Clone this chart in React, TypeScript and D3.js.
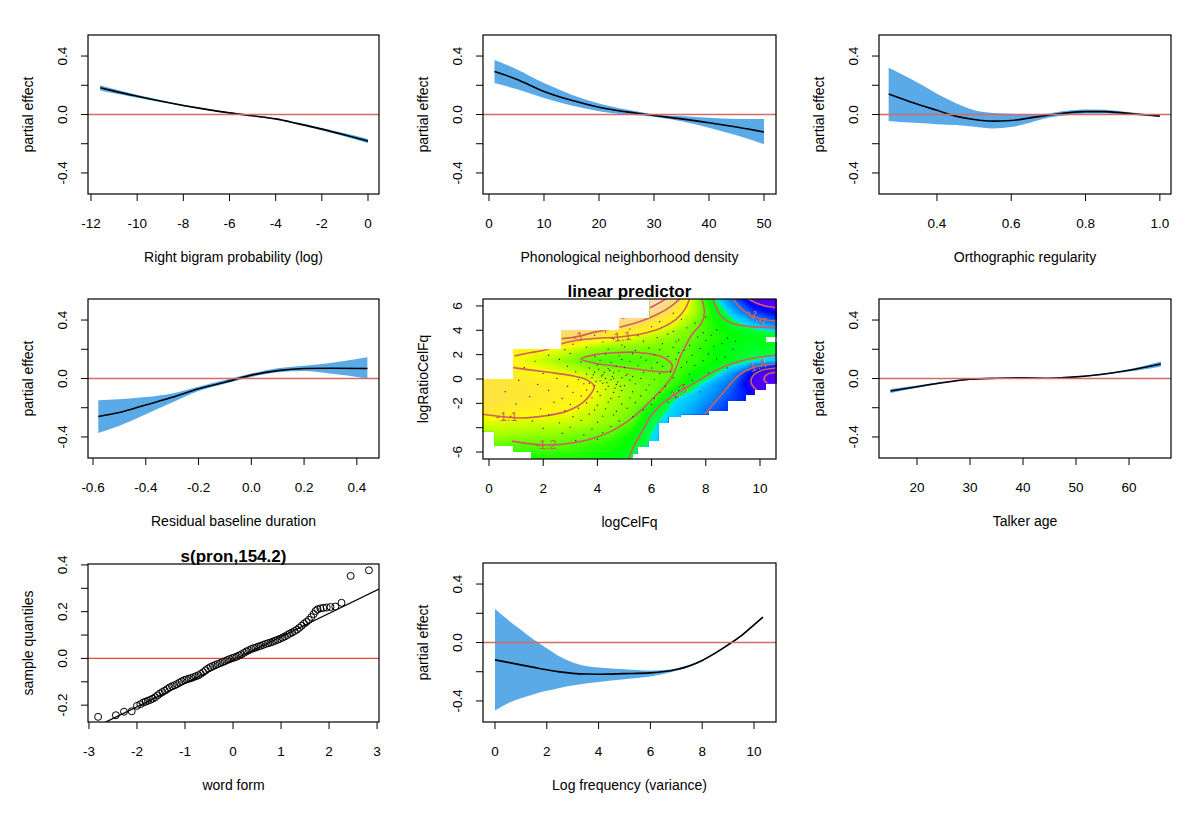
import { useRef, useEffect } from "react";
import * as d3 from "d3";

// ---------- smooth terms (x, fit, lower, upper) ----------
const bigramX = [-11.6, -11, -10, -9, -8, -7, -6, -5, -4, -3, -2, -1, 0];
const bigramFit = [0.183, 0.16, 0.125, 0.092, 0.062, 0.035, 0.011, -0.009, -0.03, -0.064, -0.1, -0.14, -0.182];
const bigramLo = [0.165, 0.146, 0.115, 0.085, 0.057, 0.031, 0.007, -0.013, -0.035, -0.07, -0.108, -0.151, -0.197];
const bigramHi = [0.201, 0.174, 0.135, 0.099, 0.067, 0.039, 0.015, -0.005, -0.025, -0.058, -0.092, -0.129, -0.167];

const phonX = [1, 5, 10, 15, 20, 25, 30, 35, 40, 45, 50];
const phonFit = [0.294, 0.242, 0.158, 0.097, 0.05, 0.018, -0.007, -0.03, -0.056, -0.086, -0.12];
const phonLo = [0.215, 0.174, 0.113, 0.061, 0.023, 0.0, -0.016, -0.047, -0.09, -0.142, -0.203];
const phonHi = [0.373, 0.31, 0.215, 0.136, 0.075, 0.034, 0.002, -0.011, -0.023, -0.03, -0.03];

const orthX = [0.27, 0.3, 0.35, 0.4, 0.45, 0.5, 0.55, 0.6, 0.65, 0.7, 0.75, 0.8, 0.85, 0.9, 0.95, 1.0];
const orthFit = [0.14, 0.113, 0.068, 0.029, -0.011, -0.034, -0.045, -0.041, -0.023, -0.005, 0.011, 0.02, 0.02, 0.011, 0, -0.011];
const orthLo = [-0.045, -0.052, -0.059, -0.066, -0.072, -0.084, -0.095, -0.086, -0.056, -0.023, -0.005, 0.007, 0.007, 0, -0.007, -0.016];
const orthHi = [0.32, 0.282, 0.215, 0.142, 0.079, 0.029, 0.011, 0.005, 0, 0.007, 0.025, 0.034, 0.032, 0.02, 0.007, -0.007];

const residX = [-0.58, -0.5, -0.4, -0.3, -0.2, -0.1, 0, 0.1, 0.2, 0.3, 0.44];
const residFit = [-0.26, -0.233, -0.181, -0.129, -0.07, -0.025, 0.023, 0.054, 0.068, 0.07, 0.068];
const residLo = [-0.373, -0.323, -0.244, -0.165, -0.086, -0.036, 0.011, 0.043, 0.052, 0.034, 0.0];
const residHi = [-0.149, -0.142, -0.127, -0.102, -0.056, -0.011, 0.034, 0.07, 0.088, 0.106, 0.145];

const ageX = [15, 20, 25, 30, 35, 40, 45, 50, 55, 60, 66];
const ageFit = [-0.086, -0.056, -0.027, -0.005, 0.002, 0.005, 0.002, 0.011, 0.029, 0.056, 0.099];
const ageLo = [-0.1, -0.064, -0.032, -0.008, 0, 0.003, 0, 0.008, 0.024, 0.048, 0.081];
const ageHi = [-0.072, -0.048, -0.022, -0.002, 0.004, 0.007, 0.004, 0.014, 0.034, 0.064, 0.117];

const freqX = [0, 0.5, 1, 1.5, 2, 2.5, 3, 3.5, 4, 5, 6, 7, 7.5, 8, 8.5, 9, 9.5, 10, 10.35];
const freqFit = [-0.119, -0.136, -0.153, -0.17, -0.187, -0.201, -0.211, -0.216, -0.217, -0.213, -0.208, -0.185, -0.16, -0.123, -0.073, -0.016, 0.046, 0.121, 0.174];
const freqLo = [-0.466, -0.416, -0.382, -0.354, -0.331, -0.311, -0.295, -0.281, -0.27, -0.251, -0.233, -0.194, -0.167, -0.128, -0.078, -0.021, 0.041, 0.117, 0.169];
const freqHi = [0.229, 0.155, 0.087, 0.018, -0.039, -0.096, -0.137, -0.16, -0.171, -0.183, -0.192, -0.178, -0.153, -0.119, -0.069, -0.011, 0.05, 0.126, 0.178];

// ---------- random effect QQ plot ----------
const qqPoints = [
  [-2.81, -0.25], [-2.44, -0.243], [-2.27, -0.228], [-2.11, -0.226], [-2.0, -0.203], [-1.93, -0.196], [-1.87, -0.189],
  [-1.82, -0.185], [-1.77, -0.181], [-1.72, -0.177], [-1.67, -0.172], [-1.62, -0.166], [-1.57, -0.158], [-1.52, -0.15],
  [-1.47, -0.144], [-1.42, -0.138], [-1.37, -0.131], [-1.32, -0.124], [-1.27, -0.119], [-1.22, -0.115], [-1.17, -0.11],
  [-1.12, -0.104], [-1.07, -0.098], [-1.02, -0.093], [-0.97, -0.09], [-0.92, -0.087], [-0.87, -0.084], [-0.82, -0.08],
  [-0.77, -0.076], [-0.72, -0.072], [-0.67, -0.066], [-0.62, -0.059], [-0.57, -0.051], [-0.52, -0.043], [-0.47, -0.037],
  [-0.42, -0.032], [-0.37, -0.028], [-0.32, -0.024], [-0.27, -0.02], [-0.22, -0.016], [-0.17, -0.012], [-0.12, -0.007],
  [-0.07, -0.003], [-0.02, 0.001], [0.03, 0.004], [0.08, 0.008], [0.13, 0.013], [0.18, 0.018], [0.23, 0.024],
  [0.28, 0.03], [0.33, 0.035], [0.38, 0.04], [0.43, 0.044], [0.48, 0.047], [0.53, 0.051], [0.58, 0.054],
  [0.63, 0.058], [0.68, 0.062], [0.73, 0.065], [0.78, 0.068], [0.83, 0.072], [0.88, 0.076], [0.93, 0.08],
  [0.98, 0.084], [1.03, 0.089], [1.08, 0.094], [1.13, 0.1], [1.18, 0.106], [1.23, 0.111], [1.28, 0.117],
  [1.33, 0.123], [1.38, 0.131], [1.43, 0.14], [1.48, 0.149], [1.53, 0.156], [1.58, 0.165], [1.63, 0.177],
  [1.68, 0.19], [1.72, 0.203], [1.76, 0.21], [1.82, 0.214], [1.88, 0.216], [1.95, 0.218], [2.03, 0.22],
  [2.13, 0.222], [2.26, 0.238], [2.45, 0.353], [2.83, 0.377],
];
const qqIntercept = -0.007;
const qqSlope = 0.1;

// ---------- tensor surface (linear predictor) ----------
const gridX = [0, 0.75, 1.5, 2.25, 3, 3.75, 4.5, 5.25, 6, 6.75, 7.5, 8.25, 9, 9.75, 10.5];
const gridY = [6.5, 5.5, 4.5, 3.5, 2.5, 1.5, 0.5, -0.5, -1.5, -2.5, -3.5, -4.5, -5.5, -6.5];
const gridZ = [
  [-0.8, -0.8, -0.8, -0.8, -0.8, -0.8, -0.8, -0.82, -0.85, -0.96, -1.13, -1.3, -1.4, -1.52, -1.58],
  [-0.85, -0.85, -0.85, -0.84, -0.82, -0.82, -0.83, -0.88, -0.95, -1.04, -1.14, -1.26, -1.35, -1.43, -1.48],
  [-0.95, -0.95, -0.95, -0.95, -0.95, -0.95, -0.98, -1.0, -1.06, -1.11, -1.18, -1.25, -1.3, -1.34, -1.38],
  [-1.02, -1.02, -1.02, -1.02, -1.0, -1.04, -1.08, -1.11, -1.14, -1.17, -1.2, -1.24, -1.27, -1.28, -1.29],
  [-1.09, -1.09, -1.1, -1.1, -1.12, -1.16, -1.18, -1.185, -1.19, -1.195, -1.22, -1.26, -1.285, -1.295, -1.29],
  [-1.07, -1.09, -1.12, -1.15, -1.18, -1.21, -1.22, -1.22, -1.215, -1.195, -1.23, -1.26, -1.29, -1.32, -1.34],
  [-1.06, -1.07, -1.09, -1.1, -1.12, -1.15, -1.17, -1.185, -1.195, -1.21, -1.255, -1.3, -1.37, -1.49, -1.58],
  [-1.04, -1.05, -1.06, -1.07, -1.08, -1.1, -1.14, -1.17, -1.19, -1.23, -1.3, -1.36, -1.41, -1.52, -1.56],
  [-1.04, -1.05, -1.06, -1.07, -1.085, -1.105, -1.14, -1.17, -1.2, -1.31, -1.34, -1.38, -1.43, -1.47, -1.5],
  [-1.05, -1.07, -1.08, -1.09, -1.1, -1.13, -1.16, -1.185, -1.27, -1.33, -1.36, -1.41, -1.45, -1.48, -1.5],
  [-1.12, -1.12, -1.125, -1.125, -1.13, -1.15, -1.17, -1.21, -1.31, -1.34, -1.37, -1.4, -1.45, -1.48, -1.5],
  [-1.15, -1.16, -1.165, -1.17, -1.18, -1.19, -1.21, -1.26, -1.32, -1.35, -1.38, -1.42, -1.46, -1.5, -1.5],
  [-1.2, -1.21, -1.215, -1.21, -1.215, -1.235, -1.25, -1.28, -1.33, -1.36, -1.4, -1.44, -1.48, -1.5, -1.5],
  [-1.24, -1.25, -1.25, -1.25, -1.25, -1.26, -1.27, -1.3, -1.34, -1.37, -1.4, -1.44, -1.48, -1.5, -1.5],
];

// columns of the grid that are close enough to data: [x0, x1, yLow, yHigh]
const validCells = [
  [-0.25, 0.22, -4.3, 0.0], [0.22, 0.9, -5.5, 0.0], [0.9, 1.58, -6.0, 2.45], [1.58, 2.68, -6.6, 2.45],
  [2.68, 4.83, -6.6, 4.0], [4.83, 5.3, -6.6, 5.0], [5.3, 5.46, -6.1, 5.0], [5.46, 5.87, -5.55, 5.0],
  [5.87, 5.95, -5.1, 5.0], [5.95, 6.24, -5.1, 6.6], [6.24, 6.6, -3.6, 6.6], [6.6, 7.05, -3.1, 6.6],
  [7.05, 8.1, -2.9, 6.6], [8.1, 8.8, -2.6, 6.6], [8.8, 9.45, -1.8, 6.6], [9.45, 9.8, -1.3, 6.6],
  [9.8, 10.2, -0.9, 6.6], [10.2, 10.6, -0.35, 3.0], [10.2, 10.6, 3.45, 6.6],
];

const contourLines = [
  [[4.9, 5.0], [5.4, 5.3], [5.9, 5.8], [6.4, 6.4], [6.55, 6.6]],
  [[2.68, 3.3], [3.3, 3.5], [3.9, 3.85], [4.5, 4.1], [5.0, 4.35], [5.6, 4.75], [6.2, 5.3], [6.7, 5.95], [7.05, 6.6]],
  [[0.95, 1.9], [1.5, 2.15], [2.1, 2.4], [2.6, 2.85], [3.3, 3.2], [4.0, 3.35], [4.8, 3.45], [5.6, 3.7], [6.3, 4.15], [6.9, 4.9], [7.25, 5.8], [7.4, 6.6]],
  [[-0.25, -2.9], [0.5, -3.1], [1.2, -3.2], [2.0, -3.05], [2.8, -2.7], [3.4, -2.05], [3.75, -1.25], [3.88, -0.6], [3.6, -0.05], [3.0, 0.3], [2.2, 0.55], [1.5, 0.75], [0.85, 0.95]],
  [[0.85, -5.1], [1.6, -5.35], [2.3, -5.42], [3.0, -5.27], [3.8, -4.9], [4.5, -4.3], [5.1, -3.5], [5.6, -2.6], [6.0, -1.7], [6.4, -0.8], [6.75, 0.2], [6.9, 0.9], [7.05, 1.8], [7.25, 2.7], [7.5, 3.7], [7.85, 4.6], [7.95, 5.5], [7.85, 6.6]],
  [[5.15, -6.6], [5.35, -5.5], [5.65, -4.3], [5.95, -3.1], [6.35, -2.1], [6.95, -1.15], [7.6, -0.3], [8.25, 0.55], [8.95, 1.25], [9.7, 1.7], [10.6, 1.95]],
  [[8.25, 6.6], [8.35, 6.0], [8.55, 5.2], [9.0, 4.55], [9.7, 4.3], [10.6, 4.2]],
  [[9.0, 6.6], [9.25, 5.9], [9.6, 5.3], [10.0, 4.95], [10.6, 4.75]],
  [[9.55, 6.6], [9.9, 6.2], [10.3, 5.95], [10.6, 5.85]],
  [[7.95, -2.95], [8.3, -2.0], [8.65, -1.1], [8.95, -0.3], [9.3, 0.45], [9.75, 0.95], [10.2, 1.15], [10.6, 1.25]],
  [[10.6, 0.9], [10.05, 0.7], [9.72, 0.2], [9.68, -0.35], [9.9, -0.95]],
  [[10.6, 0.55], [10.25, 0.35], [10.15, -0.05], [10.3, -0.4]],
];
const contourLoop = [[3.4, 1.65], [3.9, 2.0], [4.6, 2.15], [5.4, 2.2], [6.0, 2.05], [6.45, 1.75], [6.75, 1.2], [6.7, 0.65], [6.3, 0.6], [5.5, 0.8], [4.7, 1.05], [3.9, 1.3]];
const contourLabels = [
  { text: "-1", x: 3.3, y: 3.45, angle: -15 },
  { text: "-1.1", x: 4.85, y: 3.45, angle: -6 },
  { text: "-1.1", x: 0.65, y: -3.15, angle: 0 },
  { text: "-1.2", x: 2.1, y: -5.4, angle: 0 },
  { text: "-1.3", x: 6.95, y: -1.15, angle: -35 },
  { text: "-1.4", x: 9.85, y: 5.1, angle: 35 },
  { text: "-1.4", x: 9.85, y: 1.05, angle: -20 },
];

const observed =
  "6.3,4.7 7.1,4.9 7.6,4.6 8.0,5.1 6.8,5.4 4.3,3.85 5.2,4.1 6.0,4.3 6.8,3.9 7.3,4.2 7.9,3.8 8.4,4.05 " +
  "3.9,3.6 4.6,3.3 5.5,3.55 6.2,3.4 6.6,3.7 7.0,3.2 7.7,3.45 8.2,3.6 8.8,3.35 3.1,2.85 4.2,3.05 4.9,2.8 " +
  "5.7,3.1 6.4,2.9 6.9,3.05 7.4,2.75 8.0,3.15 8.6,2.9 9.1,3.1 2.8,2.4 3.6,2.6 4.4,2.45 5.0,2.65 5.4,2.35 " +
  "5.9,2.55 6.3,2.4 6.8,2.6 7.2,2.35 7.8,2.5 8.3,2.7 9.0,2.45 2.2,1.95 3.0,2.1 3.9,1.85 4.3,2.05 4.8,1.9 " +
  "5.3,2.1 5.6,1.8 6.1,2.0 6.6,1.85 7.0,2.15 7.5,1.95 8.1,2.05 8.7,1.8 1.7,1.45 2.6,1.6 3.4,1.4 4.1,1.55 " +
  "4.5,1.35 4.9,1.6 5.2,1.45 5.8,1.55 6.2,1.35 6.9,1.6 7.3,1.4 7.9,1.5 8.4,1.65 1.3,0.95 2.9,1.05 3.7,0.9 " +
  "4.0,1.15 4.4,0.85 4.7,1.05 5.0,0.95 5.5,1.1 6.0,0.9 6.4,1.05 7.1,0.95 7.6,1.1 8.8,0.9 2.0,0.45 3.2,0.6 " +
  "3.6,0.4 3.9,0.55 4.2,0.35 4.6,0.5 4.8,0.65 5.1,0.4 5.7,0.55 6.3,0.45 6.7,0.6 7.4,0.4 8.1,0.5 1.1,-0.1 " +
  "2.5,0.05 3.3,-0.05 3.8,0.1 4.1,-0.15 4.3,0.05 4.5,-0.05 4.9,0.1 5.2,-0.1 5.6,0.05 6.1,-0.05 6.8,0.1 " +
  "7.5,-0.1 1.8,-0.45 2.9,-0.6 3.5,-0.4 3.9,-0.55 4.2,-0.35 4.4,-0.6 4.7,-0.45 5.0,-0.55 5.4,-0.4 5.9,-0.5 " +
  "6.5,-0.6 7.2,-0.45 0.6,-1.05 2.2,-0.95 3.1,-1.1 3.6,-0.9 4.0,-1.05 4.3,-0.85 4.6,-1.1 4.9,-0.95 5.3,-1.05 " +
  "5.8,-0.9 6.3,-1.1 7.0,-0.95 7.8,-1.05 1.5,-1.45 2.7,-1.6 3.4,-1.4 3.8,-1.55 4.1,-1.35 4.5,-1.6 4.8,-1.45 " +
  "5.2,-1.55 5.6,-1.4 6.1,-1.6 6.9,-1.5 1.0,-2.05 2.4,-1.9 3.0,-2.1 3.6,-1.95 4.0,-2.15 4.4,-1.9 4.9,-2.05 " +
  "5.4,-1.95 6.0,-2.1 6.6,-1.9 1.9,-2.45 2.8,-2.6 3.3,-2.4 3.9,-2.55 4.3,-2.45 4.7,-2.65 5.1,-2.4 5.7,-2.55 " +
  "0.8,-3.05 2.2,-2.95 3.1,-3.1 3.7,-2.9 4.2,-3.05 4.6,-2.95 5.3,-3.1 1.6,-3.45 2.6,-3.6 3.4,-3.4 4.0,-3.55 " +
  "4.8,-3.45 2.0,-4.05 3.0,-3.95 3.8,-4.1 4.5,-3.9 2.7,-4.45 3.5,-4.6 4.2,-4.4 3.2,-5.05 4.0,-4.95 " +
  "4.15,0.25 4.35,-0.3 4.55,0.2 4.75,-0.25 3.95,-0.2 4.45,0.7 4.65,-0.75 4.25,0.55 3.7,-0.35 5.05,0.3 " +
  "4.85,-0.6 4.05,0.8 5.3,0.2 3.85,0.35 4.6,0.05";

// ---------- layout ----------
const W = 1200;
const H = 814;
const FONT = "'Liberation Sans', Arial, Helvetica, sans-serif";
const BAND = "#5aaae8";
const ZERO = "#d46a6a";
const CONTOUR = "#d0605e";
const COLS = [{ x0: 88, x1: 379 }, { x0: 483, x1: 776 }, { x0: 879, x1: 1171 }];
const ROWS = [{ y0: 35, y1: 194 }, { y0: 299, y1: 458 }, { y0: 563, y1: 722 }];

const fmt = (d: number) => (v: number) => v.toFixed(d);

function hsv(h: number, s: number, v: number) {
  const f = (n: number) => {
    const k = (n + h / 60) % 6;
    return v - v * s * Math.max(0, Math.min(k, 4 - k, 1));
  };
  return d3.rgb(255 * f(5), 255 * f(3), 255 * f(1)).formatHex();
}

// continuous version of R's topo.colors
function topo(t: number) {
  const u = Math.max(0, Math.min(1, t));
  if (u < 1 / 3) return hsv(258 - 72 * u * 3, 1, 1);
  if (u < 2 / 3) return hsv(138 - 72 * (u - 1 / 3) * 3, 1, 1);
  const w = (u - 2 / 3) * 3;
  return hsv(60 - 24 * w, 1 - 0.7 * w, 1);
}

function frame(g: any, box: any, x: any, y: any, o: any) {
  g.append("rect")
    .attr("x", box.x0).attr("y", box.y0)
    .attr("width", box.x1 - box.x0).attr("height", box.y1 - box.y0)
    .attr("fill", "none").attr("stroke", "#000").attr("stroke-width", 1.2);

  o.xTicks.forEach((t: number) => {
    g.append("line")
      .attr("x1", x(t)).attr("x2", x(t))
      .attr("y1", box.y1).attr("y2", box.y1 + 7)
      .attr("stroke", "#000");
    g.append("text")
      .attr("x", x(t)).attr("y", box.y1 + 29)
      .attr("text-anchor", "middle").attr("dominant-baseline", "central")
      .attr("font-size", 13.5)
      .text(o.xFmt(t));
  });
  o.yTicks.forEach((t: number) => {
    g.append("line")
      .attr("x1", box.x0 - 7).attr("x2", box.x0)
      .attr("y1", y(t)).attr("y2", y(t))
      .attr("stroke", "#000");
  });
  o.yLabels.forEach((t: number) => {
    g.append("text")
      .attr("transform", `translate(${box.x0 - 26},${y(t)}) rotate(-90)`)
      .attr("text-anchor", "middle").attr("dominant-baseline", "central")
      .attr("font-size", 13.5)
      .text(o.yFmt(t));
  });
  g.append("text")
    .attr("x", (box.x0 + box.x1) / 2).attr("y", box.y1 + 63)
    .attr("text-anchor", "middle").attr("dominant-baseline", "central")
    .attr("font-size", 14)
    .text(o.xLabel);
  g.append("text")
    .attr("transform", `translate(${box.x0 - 60},${(box.y0 + box.y1) / 2}) rotate(-90)`)
    .attr("text-anchor", "middle").attr("dominant-baseline", "central")
    .attr("font-size", 14)
    .text(o.yLabel);
  if (o.title) {
    g.append("text")
      .attr("x", (box.x0 + box.x1) / 2).attr("y", box.y0 - 8)
      .attr("text-anchor", "middle").attr("dominant-baseline", "central")
      .attr("font-size", 17).attr("font-weight", "bold")
      .text(o.title);
  }
}

export default function App() {
  const svgRef = useRef<SVGSVGElement>(null);

  useEffect(() => {
    const svg = d3.select(svgRef.current);
    svg.selectAll("*").remove();
    const root = svg.append("g").attr("font-family", FONT).attr("fill", "#000");
    const defs = svg.append("defs");

    // smooth term panels
    const smooths = [
      { c: 0, r: 0, dom: [-12.13, 0.476], ticks: d3.range(-12, 1, 2), f: fmt(0), label: "Right bigram probability (log)", xs: bigramX, fit: bigramFit, lo: bigramLo, hi: bigramHi },
      { c: 1, r: 0, dom: [-1.09, 52.18], ticks: d3.range(0, 51, 10), f: fmt(0), label: "Phonological neighborhood density", xs: phonX, fit: phonFit, lo: phonLo, hi: phonHi },
      { c: 2, r: 0, dom: [0.244, 1.03], ticks: [0.4, 0.6, 0.8, 1.0], f: fmt(1), label: "Orthographic regularity", xs: orthX, fit: orthFit, lo: orthLo, hi: orthHi },
      { c: 0, r: 1, dom: [-0.619, 0.484], ticks: [-0.6, -0.4, -0.2, 0, 0.2, 0.4], f: fmt(1), label: "Residual baseline duration", xs: residX, fit: residFit, lo: residLo, hi: residHi },
      { c: 2, r: 1, dom: [12.83, 67.92], ticks: d3.range(20, 61, 10), f: fmt(0), label: "Talker age", xs: ageX, fit: ageFit, lo: ageLo, hi: ageHi },
      { c: 1, r: 2, dom: [-0.463, 10.85], ticks: d3.range(0, 11, 2), f: fmt(0), label: "Log frequency (variance)", xs: freqX, fit: freqFit, lo: freqLo, hi: freqHi },
    ];

    smooths.forEach((p) => {
      const box = { ...COLS[p.c], ...ROWS[p.r] };
      const x = d3.scaleLinear().domain(p.dom).range([box.x0, box.x1]);
      const y = d3.scaleLinear().domain([-0.544, 0.544]).range([box.y1, box.y0]);
      const g = root.append("g");
      const rows = p.xs.map((v, k) => ({ x: v, fit: p.fit[k], lo: p.lo[k], hi: p.hi[k] }));

      g.append("path")
        .datum(rows)
        .attr("d", d3.area<any>().curve(d3.curveMonotoneX).x((d) => x(d.x)).y0((d) => y(d.lo)).y1((d) => y(d.hi)))
        .attr("fill", BAND);
      g.append("path")
        .datum(rows)
        .attr("d", d3.line<any>().curve(d3.curveMonotoneX).x((d) => x(d.x)).y((d) => y(d.fit)))
        .attr("fill", "none").attr("stroke", "#000").attr("stroke-width", 1.6);
      g.append("line")
        .attr("x1", box.x0).attr("x2", box.x1)
        .attr("y1", y(0)).attr("y2", y(0))
        .attr("stroke", ZERO).attr("stroke-width", 1.5);

      frame(g, box, x, y, {
        xTicks: p.ticks, xFmt: p.f,
        yTicks: [-0.4, -0.2, 0, 0.2, 0.4], yLabels: [-0.4, 0, 0.4], yFmt: fmt(1),
        xLabel: p.label, yLabel: "partial effect",
      });
    });

    // QQ plot of the random effect
    {
      const box = { ...COLS[0], y0: 564, y1: 722 };
      const x = d3.scaleLinear().domain([-3.02, 3.04]).range([box.x0, box.x1]);
      const y = d3.scaleLinear().domain([-0.272, 0.404]).range([box.y1, box.y0]);
      const g = root.append("g");
      defs.append("clipPath").attr("id", "qq-clip")
        .append("rect").attr("x", box.x0).attr("y", box.y0)
        .attr("width", box.x1 - box.x0).attr("height", box.y1 - box.y0);
      const inner = g.append("g").attr("clip-path", "url(#qq-clip)");
      const [a, b] = x.domain();
      inner.append("line")
        .attr("x1", x(a)).attr("x2", x(b))
        .attr("y1", y(qqIntercept + qqSlope * a)).attr("y2", y(qqIntercept + qqSlope * b))
        .attr("stroke", "#000").attr("stroke-width", 1.3);
      inner.append("line")
        .attr("x1", box.x0).attr("x2", box.x1)
        .attr("y1", y(0)).attr("y2", y(0))
        .attr("stroke", "#e8443e").attr("stroke-width", 1.3);
      inner.selectAll("circle.qq").data(qqPoints).join("circle")
        .attr("cx", (d) => x(d[0])).attr("cy", (d) => y(d[1])).attr("r", 3.5)
        .attr("fill", "none").attr("stroke", "#000").attr("stroke-width", 1);
      frame(g, box, x, y, {
        xTicks: d3.range(-3, 4, 1), xFmt: fmt(0),
        yTicks: [-0.2, -0.1, 0, 0.1, 0.2, 0.3, 0.4], yLabels: [-0.2, 0, 0.2, 0.4], yFmt: fmt(1),
        xLabel: "word form", yLabel: "sample quantiles", title: "s(pron,154.2)",
      });
    }

    // linear predictor surface
    {
      const box = { ...COLS[1], y0: 299, y1: 459 };
      const x = d3.scaleLinear().domain([-0.221, 10.59]).range([box.x0, box.x1]);
      const y = d3.scaleLinear().domain([-6.57, 6.57]).range([box.y1, box.y0]);
      const g = root.append("g");
      const nx = gridX.length;
      const ny = gridY.length;
      const gx = d3.scaleLinear().domain([0.5, nx - 0.5]).range([gridX[0], gridX[nx - 1]]);
      const gy = d3.scaleLinear().domain([0.5, ny - 0.5]).range([gridY[0], gridY[ny - 1]]);
      const zc = d3.scaleLinear().domain([-1.525, -0.91]).range([0, 1]).clamp(true);

      const clip = defs.append("clipPath").attr("id", "lp-clip");
      validCells.forEach(([x0, x1, lo, hi]) => {
        const cx0 = Math.max(box.x0, x(x0));
        const cx1 = Math.min(box.x1, x(x1));
        const cy0 = Math.max(box.y0, y(hi));
        const cy1 = Math.min(box.y1, y(lo));
        clip.append("rect").attr("x", cx0 - 0.3).attr("y", cy0)
          .attr("width", cx1 - cx0 + 0.6).attr("height", cy1 - cy0);
      });

      const inner = g.append("g").attr("clip-path", "url(#lp-clip)");
      const proj = d3.geoTransform({
        point: function (px: number, py: number) {
          (this as any).stream.point(x(gx(px)), y(gy(py)));
        },
      });
      const path = d3.geoPath(proj);
      const thresholds = d3.range(-1.62, -0.84, 0.01);
      const bands = d3.contours().size([nx, ny]).thresholds(thresholds)(gridZ.flat());
      inner.append("rect")
        .attr("x", box.x0).attr("y", box.y0)
        .attr("width", box.x1 - box.x0).attr("height", box.y1 - box.y0)
        .attr("fill", topo(0));
      inner.selectAll("path.band").data(bands).join("path")
        .attr("d", path as any)
        .attr("fill", (d: any) => topo(zc(d.value + 0.005)));

      const line = d3.line<any>().curve(d3.curveCatmullRom.alpha(0.5)).x((d) => x(d[0])).y((d) => y(d[1]));
      const loop = d3.line<any>().curve(d3.curveCatmullRomClosed.alpha(0.5)).x((d) => x(d[0])).y((d) => y(d[1]));
      contourLines.forEach((pts) => {
        inner.append("path").attr("d", line(pts)).attr("fill", "none")
          .attr("stroke", CONTOUR).attr("stroke-width", 1.6);
      });
      inner.append("path").attr("d", loop(contourLoop)).attr("fill", "none")
        .attr("stroke", CONTOUR).attr("stroke-width", 1.6);
      contourLabels.forEach((l) => {
        inner.append("text")
          .attr("transform", `translate(${x(l.x)},${y(l.y)}) rotate(${l.angle})`)
          .attr("text-anchor", "middle").attr("dominant-baseline", "central")
          .attr("font-size", 12.5).attr("fill", CONTOUR)
          .text(l.text);
      });
      const pts = observed.trim().split(/\s+/).map((s) => s.split(",").map(Number));
      inner.selectAll("circle.obs").data(pts).join("circle")
        .attr("cx", (d) => x(d[0])).attr("cy", (d) => y(d[1])).attr("r", 0.7)
        .attr("fill", "#333");

      frame(g, box, x, y, {
        xTicks: d3.range(0, 11, 2), xFmt: fmt(0),
        yTicks: [-6, -4, -2, 0, 2, 4, 6], yLabels: [-6, -2, 0, 2, 4, 6], yFmt: fmt(0),
        xLabel: "logCelFq", yLabel: "logRatioCelFq", title: "linear predictor",
      });
    }
  }, []);

  return (
    <svg
      ref={svgRef}
      width={W}
      height={H}
      style={{ position: "absolute", left: 0, top: 0, background: "#fff" }}
    ></svg>
  );
}
